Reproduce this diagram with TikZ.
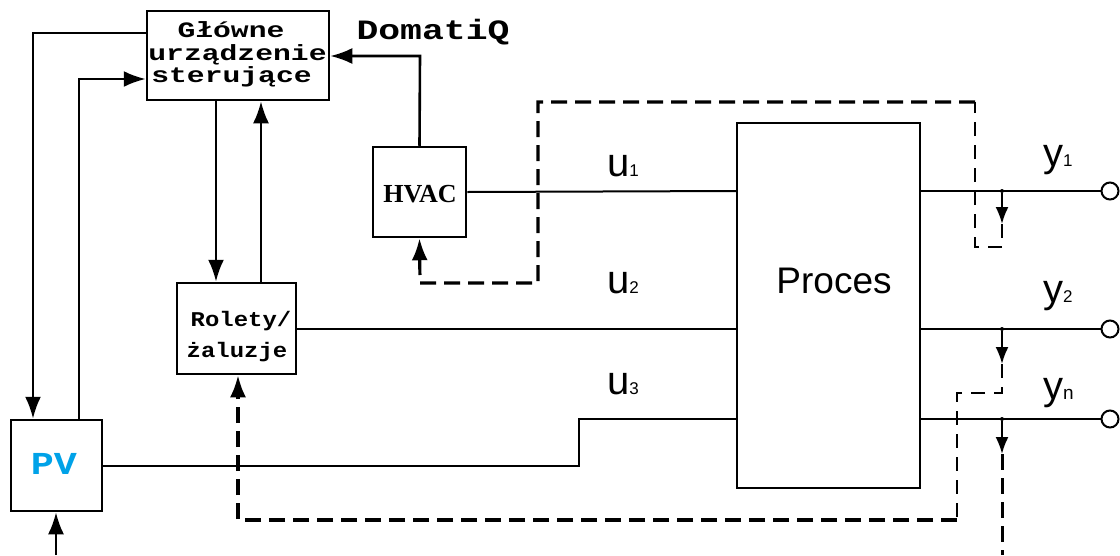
\documentclass[tikz,border=0pt]{standalone}
\usepackage{fontspec}
\usetikzlibrary{arrows.meta}
\newfontfamily\monoG[FakeStretch=1.35]{Liberation Mono}
\newfontfamily\monoD[FakeStretch=1.3]{Liberation Mono}
\newfontfamily\monoR[FakeStretch=1.14]{Liberation Mono}
\newfontfamily\monoP[FakeStretch=1.2]{Liberation Mono}
\newfontfamily\serifH{Liberation Serif}
\newfontfamily\sansA{Liberation Sans}
\definecolor{pvblue}{RGB}{0,162,232}
\begin{document}
\begin{tikzpicture}[x=1pt,y=-1pt,
  box/.style={draw,line width=2.5pt,rectangle,inner sep=0pt},
  txt/.style={inner sep=0pt,anchor=base},
  lbl/.style={inner sep=0pt,anchor=base west,font=\sansA\fontsize{40}{40}\selectfont},
  thk/.style={line width=2.6pt},
  thn/.style={line width=2pt},
  arr/.style={arrows={-Latex[length=22pt,width=16pt]}},
  sarr/.style={arrows={-Latex[length=17pt,width=13pt]}},
  dthk/.style={line width=3.2pt,dash pattern=on 16pt off 8pt},
  dthn/.style={line width=2.3pt,dash pattern=on 14pt off 9pt},
  dot/.style={circle,fill,inner sep=0pt,minimum size=4pt},
  term/.style={circle,draw,fill=white,line width=2pt,inner sep=0pt,minimum size=17pt}]
\useasboundingbox (0,0) rectangle (1120,555);
% boxes
\node[box,minimum width=182pt,minimum height=89pt] (glowne) at (238,55.5) {};
\node[box,minimum width=93pt,minimum height=90pt] (hvac) at (419.5,192) {};
\node[box,minimum width=119pt,minimum height=91pt] (rolety) at (236.5,328.5) {};
\node[box,minimum width=91pt,minimum height=91pt] (pv) at (56.5,465.5) {};
\node[box,line width=2pt,minimum width=183pt,minimum height=365pt] (proces) at (828.5,305.5) {};
% texts
\node[txt] (g1) at (231,37) {\monoG\bfseries\fontsize{22}{22}\selectfont Główne};
\node[txt] (g2) at (237.5,60) {\monoG\bfseries\fontsize{22}{22}\selectfont urządzenie};
\node[txt] (g3) at (231.5,82) {\monoG\bfseries\fontsize{22}{22}\selectfont sterujące};
\node[txt] (dq) at (433,39) {\monoD\bfseries\fontsize{28}{28}\selectfont DomatiQ};
\node[txt] (r1) at (241,326) {\monoR\bfseries\fontsize{21}{21}\selectfont Rolety/};
\node[txt] (r2) at (237,357) {\monoR\bfseries\fontsize{21}{21}\selectfont żaluzje};
\node[txt] (ht) at (420,202) {\serifH\bfseries\fontsize{26}{26}\selectfont HVAC};
\node[txt,text=pvblue] (pt) at (54,474) {\monoP\bfseries\fontsize{32}{32}\selectfont PV};
\node[txt] (prt) at (834,293) {\sansA\fontsize{37}{37}\selectfont Proces};
\node[lbl] (u1) at (607,176) {u{\fontsize{17}{17}\selectfont 1}};
\node[lbl] (u2) at (607,293) {u{\fontsize{17}{17}\selectfont 2}};
\node[lbl] (u3) at (607,394) {u{\fontsize{17}{17}\selectfont 3}};
\node[lbl] (y1) at (1043,166) {y{\fontsize{17}{17}\selectfont 1}};
\node[lbl] (y2) at (1043,302) {y{\fontsize{17}{17}\selectfont 2}};
\node[lbl] (yn) at (1043,399) {y{\fontsize{19}{19}\selectfont n}};
% output terminals and junctions
\node[term] (o1) at (1110,191) {};
\node[term] (o2) at (1110,329) {};
\node[term] (on) at (1110,419) {};
\node[dot] (j1) at (1002,191) {};
\node[dot] (j2) at (1002,329) {};
\node[dot] (jn) at (1002,419) {};
\coordinate (pvin) at (56,555);
\coordinate (ynend) at (1002,555);
% left control connectors
\draw[thk,arr] (glowne.west |- 0,33) -- (33,33) -- (pv.north -| 33,0);
\draw[thk,arr] (pv.north -| 79,0) -- (79,79) -- (glowne.west |- 0,79);
\draw[thk,arr] (glowne.south -| 216,0) -- (rolety.north -| 216,0);
\draw[thk,arr] (rolety.north -| 261,0) -- (glowne.south -| 261,0);
\draw[thk,arr] (hvac.north) -- (420,56) -- (glowne.east |- 0,56);
\draw[thk,arr] (pvin) -- (pv.south -| 56,0);
% process inputs
\draw[thn] (hvac.east) -- (proces.west |- 0,191);
\draw[thn] (rolety.east |- 0,329) -- (proces.west |- 0,329);
\draw[thn] (pv.east |- 0,466) -- (579,466) -- (579,419) -- (proces.west |- 0,419);
% process outputs
\draw[thn] (proces.east |- 0,191) -- (o1);
\draw[thn] (proces.east |- 0,329) -- (o2);
\draw[thn] (proces.east |- 0,419) -- (on);
% feedback paths
\draw[thn,sarr] (j1) -- (1002,224) coordinate (a1);
\draw[dthn] (a1) -- (1002,247) -- (975,247) -- (975,102);
\draw[dthk,arr] (975,102) -- (538,102) -- (538,283) -- (420,283) -- (hvac.south);
\draw[thn,sarr] (j2) -- (1002,364) coordinate (a2);
\draw[dthn] (a2) -- (1002,393) -- (957,393) -- (957,520);
\draw[dthk,arr] (957,520) -- (238,520) -- (rolety.south -| 238,0);
\draw[thn,sarr] (jn) -- (1002,454) coordinate (an);
\draw[line width=3pt,dash pattern=on 16pt off 8pt] (an) -- (ynend);
\end{tikzpicture}
\end{document}
